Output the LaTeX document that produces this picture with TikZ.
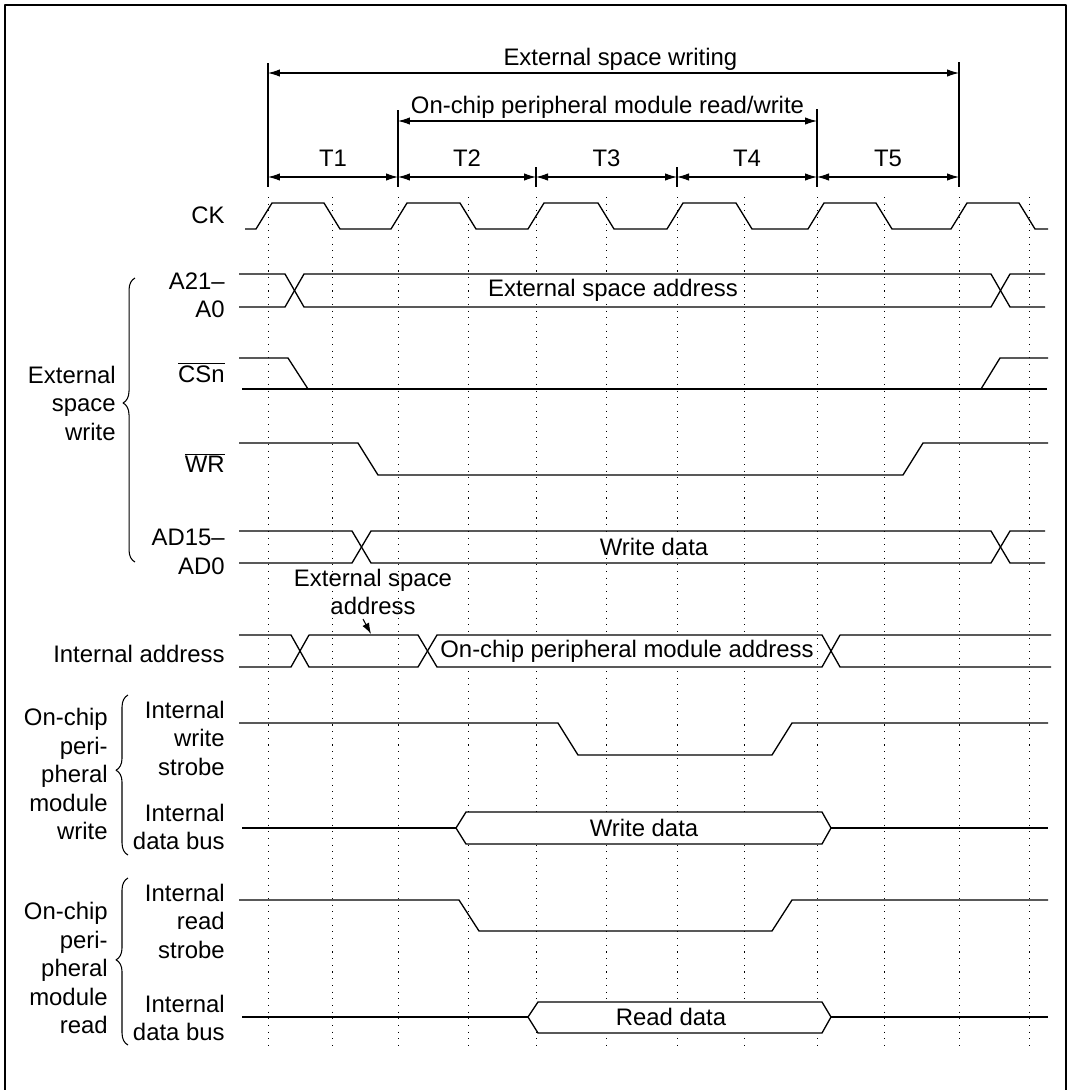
\documentclass[tikz,border=0pt]{standalone}
\usepackage{fontspec}
\setmainfont{Liberation Sans}
\usetikzlibrary{arrows.meta,decorations.pathreplacing}

\tikzset{
  sig/.style={line width=0.75pt},
  grid/.style={line width=0.45pt,dash pattern=on 0.6pt off 3.2pt},
  lbl/.style={anchor=east,align=right,inner sep=0pt},
  txt/.style={fill=white,inner sep=1.5pt},
  brc/.style={decorate,decoration={brace,amplitude=6.8pt,aspect=#1},line width=0.6pt}
}

\begin{document}
\begin{tikzpicture}[x=0.02cm,y=-0.02cm,>={Latex[length=2.4mm,width=1.5mm]},line join=round,font=\fontsize{13.6}{16.2}\selectfont]
\useasboundingbox (0,0) rectangle (1070,1090);
\draw[line width=0.7pt] (5,1090) -- (5,5) -- (1066,5) -- (1066,1090);

% dotted clock grid
\foreach \x in {268,332,398,468,536,606,677,744,817,884,959,1029}
  \draw[grid] (\x,197) -- (\x,1047);

% period marks
\foreach \x/\y in {268/63,398/110,536/167,677/167,817/109,959/62}
  \draw[line width=0.6pt] (\x,\y) -- (\x,187);
\coordinate (w0) at (268,73);  \coordinate (w1) at (959,73);
\coordinate (m0) at (398,121); \coordinate (m1) at (817,121);
\draw[<->,line width=0.6pt] (w0) -- (w1) node[pos=0.51,anchor=base,yshift=4.5pt] (ewr) {External space writing};
\draw[<->,line width=0.6pt] (m0) -- (m1) node[pos=0.5,anchor=base,yshift=4.5pt] (onrw) {On-chip peripheral module read/write};
\foreach \a/\b/\n in {268/398/1,398/536/2,536/677/3,677/817/4,817/959/5}{
  \coordinate (ta\n) at (\a,177); \coordinate (tb\n) at (\b,177);
  \draw[<->,line width=0.6pt] (ta\n) -- (tb\n) node[pos=0.5,anchor=base,yshift=6.2pt] (tn\n) {T\n};
}

% signal names
\node[lbl] (ck) at (225,215) {CK};
\node[lbl] (addr) at (225,295) {A21--\\A0};
\node[lbl] (csn) at (225,373) {$\overline{\hbox{CSn}}$};
\node[lbl] (wr) at (225,463) {$\overline{\hbox{WR}}$};
\node[lbl] (ad) at (225,552) {AD15--\\AD0};
\node[lbl] (iaddr) at (225,654) {Internal address};
\node[lbl] (iws) at (225,738) {Internal\\write\\strobe};
\node[lbl] (iwd) at (225,827) {Internal\\data bus};
\node[lbl] (irs) at (225,921) {Internal\\read\\strobe};
\node[lbl] (ird) at (225,1018) {Internal\\data bus};

% groups
\node[lbl] (gext) at (116,403) {External\\space\\write};
\node[lbl] (gwr) at (108,774) {On-chip\\peri-\\pheral\\module\\write};
\node[lbl] (grd) at (108,968) {On-chip\\peri-\\pheral\\module\\read};
\draw[brc=0.56] (135,562) -- (135,278);
\draw[brc=0.53] (128,855) -- (128,695);
\draw[brc=0.51] (128,1045) -- (128,878);

% CK
\draw[sig] (245,229) foreach \r/\f in {264/332,399/468,536/606,675/744,816/884,959/1027}{
  -- (\r-8,229) -- (\r+8,203) -- (\f-8,203) -- (\f+8,229) } -- (1048,229);

% A21-A0
\draw[sig] (239,274) -- (285,274) -- (304,307) -- (991,307) -- (1010,274) -- (1045,274);
\draw[sig] (239,307) -- (285,307) -- (304,274) -- (991,274) -- (1010,307) -- (1045,307);
\node[txt] (eaddr) at (613,290) {External space address};

% CSn
\draw[sig] (239,358) -- (288,358) -- (308,389);
\draw[sig] (242,389) -- (1047,389);
\draw[sig] (981,389) -- (1000,358) -- (1048,358);

% WR
\draw[sig] (239,443) -- (358,443) -- (378,475) -- (903,475) -- (923,443) -- (1048,443);

% AD15-AD0
\draw[sig] (239,531) -- (352,531) -- (371,563) -- (991,563) -- (1010,531) -- (1045,531);
\draw[sig] (239,563) -- (352,563) -- (371,531) -- (991,531) -- (1010,563) -- (1045,563);
\node[txt] (wdat) at (654,547) {Write data};

% internal address
\node[align=center,inner sep=0pt] (note) at (373,592) {External space\\address};
\coordinate (na) at (363,619); \coordinate (nb) at (371,634);
\draw[->,line width=0.6pt,>={Latex[length=2.2mm,width=1.5mm]}] (na) -- (nb);
\draw[sig] (239,635) -- (291,635) -- (309,667) -- (418,667) -- (437,635) -- (822,635) -- (840,667) -- (1051,667);
\draw[sig] (239,667) -- (291,667) -- (309,635) -- (418,635) -- (437,667) -- (822,667) -- (840,635) -- (1051,635);
\node[txt] (opma) at (627,651) {On-chip peripheral module address};

% internal write strobe / data bus
\draw[sig] (239,723) -- (558,723) -- (578,755) -- (772,755) -- (792,723) -- (1048,723);
\filldraw[sig,fill=white] (456,828) -- (466,812) -- (822,812) -- (831,828) -- (822,844) -- (466,844) -- cycle;
\draw[sig] (242,828) -- (456,828) (831,828) -- (1048,828);
\node[inner sep=0pt] (iwdat) at (644,828) {Write data};

% internal read strobe / data bus
\draw[sig] (239,900) -- (459,900) -- (479,931) -- (772,931) -- (792,900) -- (1048,900);
\filldraw[sig,fill=white] (528,1017) -- (538,1002) -- (822,1002) -- (831,1017) -- (822,1033) -- (538,1033) -- cycle;
\draw[sig] (242,1017) -- (528,1017) (831,1017) -- (1048,1017);
\node[inner sep=0pt] (irdat) at (671,1017) {Read data};
\end{tikzpicture}
\end{document}
